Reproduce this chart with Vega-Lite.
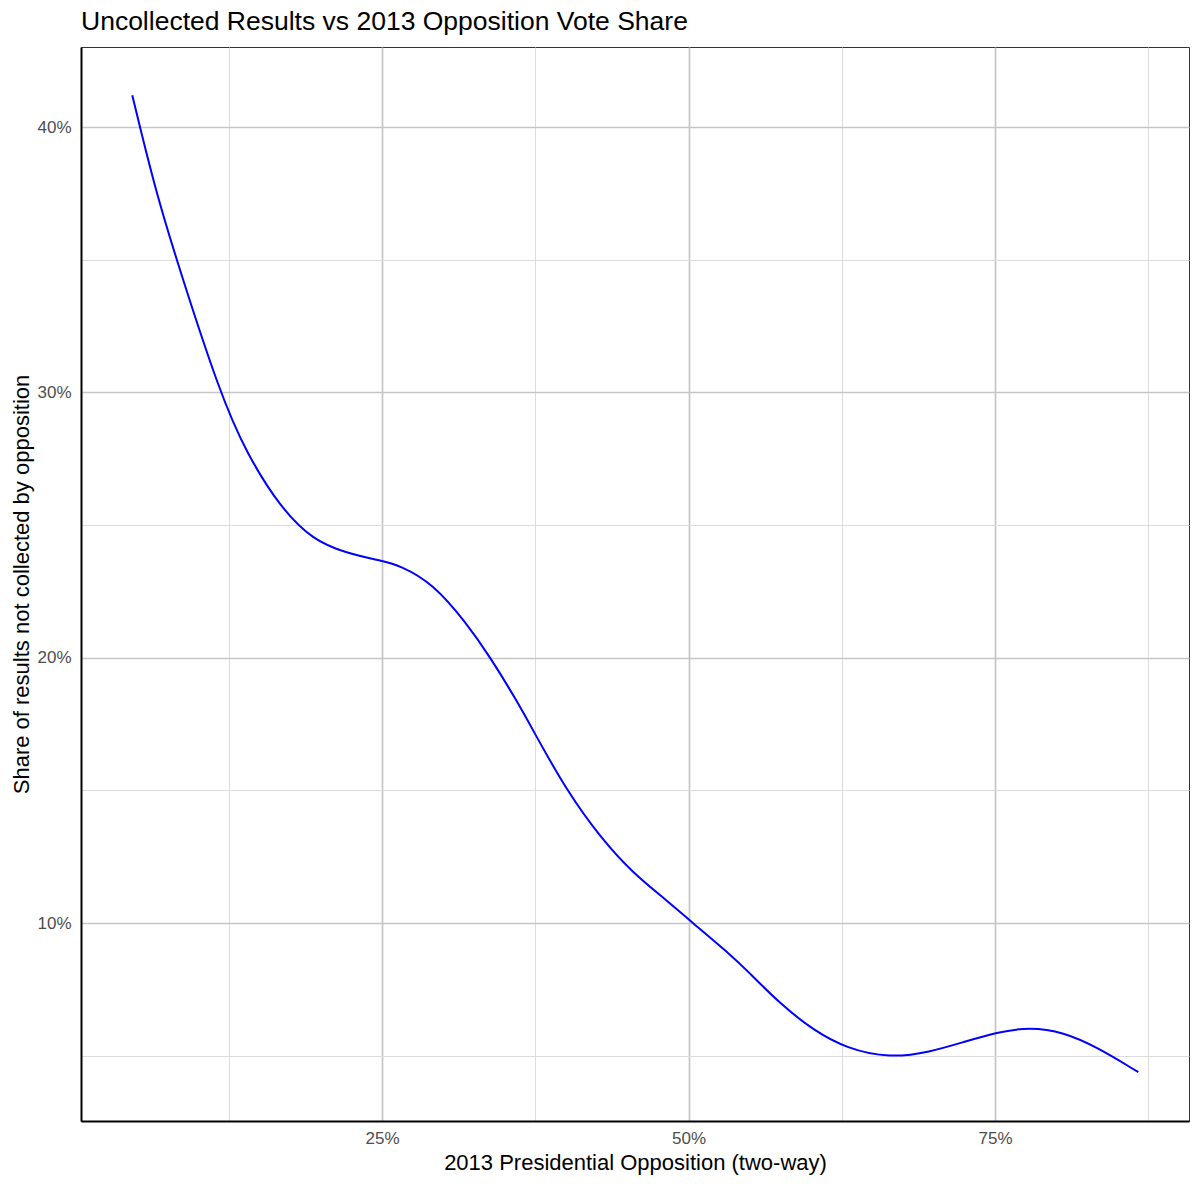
{
  "$schema": "https://vega.github.io/schema/vega-lite/v6.json",
  "width": 1108,
  "height": 1074,
  "autosize": {"type": "none"},
  "padding": {"left": 81, "top": 47, "right": 11, "bottom": 63},
  "background": "white",
  "config": {
    "font": "Liberation Sans",
    "view": {"stroke": "#333333", "strokeWidth": 1}
  },
  "title": {
    "text": "Uncollected Results vs 2013 Opposition Vote Share",
    "anchor": "start",
    "frame": "group",
    "fontSize": 26.5,
    "fontWeight": "normal",
    "color": "black",
    "baseline": "alphabetic",
    "offset": -9
  },
  "data": {
    "values": [
      {"opposition_share": 0.0463, "uncollected": 0.4120},
      {"opposition_share": 0.0526, "uncollected": 0.4000},
      {"opposition_share": 0.0662, "uncollected": 0.3749},
      {"opposition_share": 0.0825, "uncollected": 0.3498},
      {"opposition_share": 0.1179, "uncollected": 0.2995},
      {"opposition_share": 0.1396, "uncollected": 0.2770},
      {"opposition_share": 0.1668, "uncollected": 0.2568},
      {"opposition_share": 0.1937, "uncollected": 0.2443},
      {"opposition_share": 0.2212, "uncollected": 0.2394},
      {"opposition_share": 0.2484, "uncollected": 0.2367},
      {"opposition_share": 0.2647, "uncollected": 0.2348},
      {"opposition_share": 0.2918, "uncollected": 0.2279},
      {"opposition_share": 0.3191, "uncollected": 0.2129},
      {"opposition_share": 0.3381, "uncollected": 0.2003},
      {"opposition_share": 0.3599, "uncollected": 0.1839},
      {"opposition_share": 0.3762, "uncollected": 0.1701},
      {"opposition_share": 0.4006, "uncollected": 0.1500},
      {"opposition_share": 0.4278, "uncollected": 0.1324},
      {"opposition_share": 0.4550, "uncollected": 0.1186},
      {"opposition_share": 0.4822, "uncollected": 0.1086},
      {"opposition_share": 0.5010, "uncollected": 0.1010},
      {"opposition_share": 0.5365, "uncollected": 0.0872},
      {"opposition_share": 0.5475, "uncollected": 0.0822},
      {"opposition_share": 0.5746, "uncollected": 0.0696},
      {"opposition_share": 0.6018, "uncollected": 0.0596},
      {"opposition_share": 0.6290, "uncollected": 0.0527},
      {"opposition_share": 0.6643, "uncollected": 0.0491},
      {"opposition_share": 0.6970, "uncollected": 0.0514},
      {"opposition_share": 0.7241, "uncollected": 0.0551},
      {"opposition_share": 0.7514, "uncollected": 0.0589},
      {"opposition_share": 0.7786, "uncollected": 0.0608},
      {"opposition_share": 0.8057, "uncollected": 0.0589},
      {"opposition_share": 0.8330, "uncollected": 0.0533},
      {"opposition_share": 0.8669, "uncollected": 0.0438}
    ]
  },
  "mark": {"type": "line", "color": "#0000ff", "strokeWidth": 2, "interpolate": "basis"},
  "encoding": {
    "x": {
      "field": "opposition_share",
      "type": "quantitative",
      "scale": {"domain": [0.0045, 0.9082], "nice": false, "zero": false},
      "axis": {
        "title": "2013 Presidential Opposition (two-way)",
        "values": [0.125, 0.25, 0.375, 0.5, 0.625, 0.75, 0.875],
        "format": ".0%",
        "labelExpr": "indexof([0.25, 0.5, 0.75], datum.value) >= 0 ? datum.label : ''",
        "labelOverlap": false,
        "labelFlush": false,
        "ticks": false,
        "tickSize": 0,
        "labelPadding": 22,
        "labelBaseline": "alphabetic",
        "labelFontSize": 17,
        "labelColor": "#4d4d4d",
        "domainColor": "black",
        "domainWidth": 2,
        "gridColor": {"condition": {"test": "indexof([0.25, 0.5, 0.75], datum.value) >= 0", "value": "#c6c6c6"}, "value": "#dcdcdc"},
        "gridWidth": {"condition": {"test": "indexof([0.25, 0.5, 0.75], datum.value) >= 0", "value": 1.7}, "value": 1},
        "titleFontSize": 22,
        "titleFontWeight": "normal",
        "titleColor": "black",
        "titleBaseline": "alphabetic",
        "titleX": 554,
        "titleY": 48
      }
    },
    "y": {
      "field": "uncollected",
      "type": "quantitative",
      "scale": {"domain": [0.0254, 0.4302], "nice": false, "zero": false},
      "axis": {
        "title": "Share of results not collected by opposition",
        "values": [0.05, 0.1, 0.15, 0.2, 0.25, 0.3, 0.35, 0.4],
        "format": ".0%",
        "labelExpr": "indexof([0.1, 0.2, 0.3, 0.4], datum.value) >= 0 ? datum.label : ''",
        "labelOverlap": false,
        "labelFlush": false,
        "ticks": false,
        "tickSize": 0,
        "labelPadding": 10,
        "labelFontSize": 17,
        "labelColor": "#4d4d4d",
        "domainColor": "black",
        "domainWidth": 2,
        "gridColor": {"condition": {"test": "indexof([0.1, 0.2, 0.3, 0.4], datum.value) >= 0", "value": "#c6c6c6"}, "value": "#dcdcdc"},
        "gridWidth": {"condition": {"test": "indexof([0.1, 0.2, 0.3, 0.4], datum.value) >= 0", "value": 1.7}, "value": 1},
        "titleFontSize": 22,
        "titleFontWeight": "normal",
        "titleColor": "black",
        "titleAngle": -90,
        "titleAlign": "center",
        "titleBaseline": "alphabetic",
        "titleX": -53,
        "titleY": 537
      }
    }
  }
}
